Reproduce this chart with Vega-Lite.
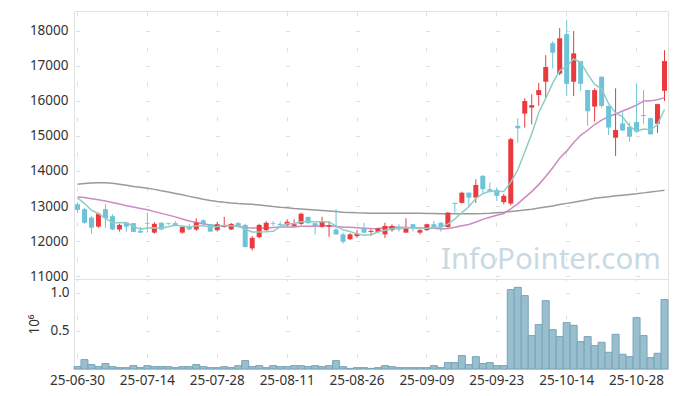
{
  "$schema": "https://vega.github.io/schema/vega-lite/v6.json",
  "padding": {"left": 27, "top": 10, "right": 10, "bottom": 5},
  "background": "white",
  "spacing": 0,
  "bounds": "flush",
  "config": {
    "font": "Noto Sans",
    "view": {"stroke": "#e2e2e2"},
    "concat": {"spacing": 0},
    "axis": {
      "labelFont": "Noto Sans",
      "labelFontSize": 13.5,
      "labelColor": "#333333",
      "labelOverlap": false,
      "titleFont": "Noto Sans",
      "titleFontSize": 13.5,
      "titleFontWeight": "normal",
      "titleColor": "#333333",
      "domainColor": "#e2e2e2",
      "ticks": false,
      "gridColor": "#dedede",
      "gridWidth": 1
    }
  },
  "datasets": {
    "d": [
      {"date": "25-06-30", "open": 13050, "high": 13110, "low": 12800, "close": 12890, "volume": 31000, "ma5": 13230, "ma20": 13260, "ma120": 13620},
      {"date": "25-07-01", "open": 12910, "high": 12950, "low": 12490, "close": 12520, "volume": 123000, "ma5": 13070, "ma20": 13240, "ma120": 13640},
      {"date": "25-07-02", "open": 12670, "high": 12710, "low": 12210, "close": 12380, "volume": 58000, "ma5": 12880, "ma20": 13210, "ma120": 13655},
      {"date": "25-07-03", "open": 12410, "high": 12810, "low": 12380, "close": 12780, "volume": 31000, "ma5": 12780, "ma20": 13180, "ma120": 13665},
      {"date": "25-07-04", "open": 12910, "high": 13050, "low": 12380, "close": 12650, "volume": 71000, "ma5": 12644, "ma20": 13140, "ma120": 13665},
      {"date": "25-07-07", "open": 12710, "high": 12770, "low": 12310, "close": 12330, "volume": 31000, "ma5": 12532, "ma20": 13100, "ma120": 13650},
      {"date": "25-07-08", "open": 12330, "high": 12490, "low": 12270, "close": 12460, "volume": 18000, "ma5": 12520, "ma20": 13060, "ma120": 13620},
      {"date": "25-07-09", "open": 12520, "high": 12540, "low": 12270, "close": 12410, "volume": 18000, "ma5": 12526, "ma20": 13010, "ma120": 13590},
      {"date": "25-07-10", "open": 12510, "high": 12510, "low": 12260, "close": 12260, "volume": 44000, "ma5": 12422, "ma20": 12970, "ma120": 13560},
      {"date": "25-07-11", "open": 12290, "high": 12400, "low": 12230, "close": 12240, "volume": 18000, "ma5": 12340, "ma20": 12930, "ma120": 13535},
      {"date": "25-07-14", "open": 12510, "high": 12810, "low": 12240, "close": 12490, "volume": 44000, "ma5": 12372, "ma20": 12890, "ma120": 13505},
      {"date": "25-07-15", "open": 12240, "high": 12540, "low": 12210, "close": 12490, "volume": 31000, "ma5": 12378, "ma20": 12840, "ma120": 13475},
      {"date": "25-07-16", "open": 12520, "high": 12540, "low": 12310, "close": 12330, "volume": 31000, "ma5": 12362, "ma20": 12790, "ma120": 13435},
      {"date": "25-07-17", "open": 12510, "high": 12520, "low": 12460, "close": 12490, "volume": 31000, "ma5": 12408, "ma20": 12740, "ma120": 13400},
      {"date": "25-07-18", "open": 12510, "high": 12570, "low": 12430, "close": 12450, "volume": 18000, "ma5": 12450, "ma20": 12690, "ma120": 13360},
      {"date": "25-07-21", "open": 12240, "high": 12430, "low": 12210, "close": 12400, "volume": 31000, "ma5": 12432, "ma20": 12630, "ma120": 13320},
      {"date": "25-07-22", "open": 12400, "high": 12490, "low": 12310, "close": 12330, "volume": 31000, "ma5": 12400, "ma20": 12570, "ma120": 13275},
      {"date": "25-07-23", "open": 12330, "high": 12650, "low": 12290, "close": 12520, "volume": 58000, "ma5": 12438, "ma20": 12530, "ma120": 13235},
      {"date": "25-07-24", "open": 12590, "high": 12620, "low": 12460, "close": 12480, "volume": 31000, "ma5": 12436, "ma20": 12490, "ma120": 13195},
      {"date": "25-07-25", "open": 12480, "high": 12490, "low": 12260, "close": 12270, "volume": 18000, "ma5": 12400, "ma20": 12459, "ma120": 13160},
      {"date": "25-07-28", "open": 12310, "high": 12550, "low": 12270, "close": 12480, "volume": 18000, "ma5": 12416, "ma20": 12438, "ma120": 13130},
      {"date": "25-07-29", "open": 12400, "high": 12690, "low": 12380, "close": 12450, "volume": 31000, "ma5": 12440, "ma20": 12435, "ma120": 13105},
      {"date": "25-07-30", "open": 12330, "high": 12510, "low": 12310, "close": 12490, "volume": 18000, "ma5": 12434, "ma20": 12440, "ma120": 13085},
      {"date": "25-07-31", "open": 12510, "high": 12540, "low": 12380, "close": 12430, "volume": 44000, "ma5": 12424, "ma20": 12423, "ma120": 13070},
      {"date": "25-08-01", "open": 12460, "high": 12490, "low": 11810, "close": 11830, "volume": 110000, "ma5": 12336, "ma20": 12382, "ma120": 13060},
      {"date": "25-08-04", "open": 11790, "high": 12140, "low": 11730, "close": 12090, "volume": 31000, "ma5": 12258, "ma20": 12370, "ma120": 13050},
      {"date": "25-08-05", "open": 12110, "high": 12490, "low": 12080, "close": 12460, "volume": 44000, "ma5": 12260, "ma20": 12370, "ma120": 13030},
      {"date": "25-08-06", "open": 12310, "high": 12570, "low": 12290, "close": 12520, "volume": 18000, "ma5": 12266, "ma20": 12375, "ma120": 13010},
      {"date": "25-08-07", "open": 12510, "high": 12570, "low": 12430, "close": 12490, "volume": 44000, "ma5": 12278, "ma20": 12387, "ma120": 12985},
      {"date": "25-08-08", "open": 12490, "high": 12560, "low": 12430, "close": 12450, "volume": 31000, "ma5": 12402, "ma20": 12397, "ma120": 12965},
      {"date": "25-08-11", "open": 12450, "high": 12620, "low": 12430, "close": 12550, "volume": 31000, "ma5": 12494, "ma20": 12400, "ma120": 12950},
      {"date": "25-08-12", "open": 12430, "high": 12620, "low": 12410, "close": 12480, "volume": 44000, "ma5": 12498, "ma20": 12400, "ma120": 12930},
      {"date": "25-08-13", "open": 12490, "high": 12810, "low": 12460, "close": 12780, "volume": 44000, "ma5": 12550, "ma20": 12422, "ma120": 12915},
      {"date": "25-08-14", "open": 12690, "high": 12690, "low": 12490, "close": 12510, "volume": 31000, "ma5": 12554, "ma20": 12423, "ma120": 12900},
      {"date": "25-08-18", "open": 12510, "high": 12510, "low": 12190, "close": 12430, "volume": 44000, "ma5": 12550, "ma20": 12422, "ma120": 12885},
      {"date": "25-08-19", "open": 12410, "high": 12690, "low": 12380, "close": 12550, "volume": 31000, "ma5": 12550, "ma20": 12430, "ma120": 12870},
      {"date": "25-08-20", "open": 12410, "high": 12570, "low": 12120, "close": 12450, "volume": 44000, "ma5": 12544, "ma20": 12436, "ma120": 12855},
      {"date": "25-08-21", "open": 12330, "high": 12910, "low": 12170, "close": 12190, "volume": 110000, "ma5": 12426, "ma20": 12419, "ma120": 12840},
      {"date": "25-08-22", "open": 12190, "high": 12240, "low": 11920, "close": 11980, "volume": 31000, "ma5": 12320, "ma20": 12394, "ma120": 12825},
      {"date": "25-08-25", "open": 12050, "high": 12230, "low": 12030, "close": 12190, "volume": 8000, "ma5": 12272, "ma20": 12390, "ma120": 12815},
      {"date": "25-08-26", "open": 12140, "high": 12310, "low": 12090, "close": 12210, "volume": 18000, "ma5": 12204, "ma20": 12377, "ma120": 12805},
      {"date": "25-08-27", "open": 12360, "high": 12520, "low": 12230, "close": 12240, "volume": 18000, "ma5": 12162, "ma20": 12366, "ma120": 12800},
      {"date": "25-08-28", "open": 12260, "high": 12340, "low": 12140, "close": 12290, "volume": 8000, "ma5": 12182, "ma20": 12356, "ma120": 12795},
      {"date": "25-08-29", "open": 12260, "high": 12380, "low": 12230, "close": 12360, "volume": 18000, "ma5": 12258, "ma20": 12353, "ma120": 12792},
      {"date": "25-09-01", "open": 12190, "high": 12520, "low": 12090, "close": 12430, "volume": 44000, "ma5": 12306, "ma20": 12383, "ma120": 12790},
      {"date": "25-09-02", "open": 12310, "high": 12480, "low": 12270, "close": 12430, "volume": 31000, "ma5": 12350, "ma20": 12400, "ma120": 12790},
      {"date": "25-09-03", "open": 12400, "high": 12480, "low": 12270, "close": 12330, "volume": 18000, "ma5": 12368, "ma20": 12393, "ma120": 12790},
      {"date": "25-09-04", "open": 12240, "high": 12650, "low": 12230, "close": 12360, "volume": 18000, "ma5": 12382, "ma20": 12385, "ma120": 12790},
      {"date": "25-09-05", "open": 12480, "high": 12490, "low": 12270, "close": 12360, "volume": 18000, "ma5": 12382, "ma20": 12379, "ma120": 12790},
      {"date": "25-09-08", "open": 12240, "high": 12340, "low": 12190, "close": 12310, "volume": 18000, "ma5": 12358, "ma20": 12372, "ma120": 12790},
      {"date": "25-09-09", "open": 12310, "high": 12490, "low": 12290, "close": 12480, "volume": 18000, "ma5": 12368, "ma20": 12368, "ma120": 12788},
      {"date": "25-09-10", "open": 12480, "high": 12570, "low": 12360, "close": 12400, "volume": 44000, "ma5": 12382, "ma20": 12364, "ma120": 12785},
      {"date": "25-09-11", "open": 12520, "high": 12540, "low": 12270, "close": 12400, "volume": 18000, "ma5": 12390, "ma20": 12345, "ma120": 12782},
      {"date": "25-09-12", "open": 12400, "high": 12830, "low": 12380, "close": 12810, "volume": 84000, "ma5": 12480, "ma20": 12360, "ma120": 12780},
      {"date": "25-09-15", "open": 13090, "high": 13090, "low": 12810, "close": 13060, "volume": 84000, "ma5": 12630, "ma20": 12392, "ma120": 12780},
      {"date": "25-09-16", "open": 13090, "high": 13410, "low": 13070, "close": 13380, "volume": 176000, "ma5": 12810, "ma20": 12433, "ma120": 12780},
      {"date": "25-09-17", "open": 13380, "high": 13390, "low": 13000, "close": 13240, "volume": 58000, "ma5": 12978, "ma20": 12473, "ma120": 12780},
      {"date": "25-09-18", "open": 13240, "high": 13760, "low": 13090, "close": 13600, "volume": 162000, "ma5": 13218, "ma20": 12543, "ma120": 12780},
      {"date": "25-09-19", "open": 13860, "high": 13890, "low": 13380, "close": 13480, "volume": 71000, "ma5": 13352, "ma20": 12618, "ma120": 12785},
      {"date": "25-09-22", "open": 13480, "high": 13670, "low": 13380, "close": 13430, "volume": 84000, "ma5": 13426, "ma20": 12680, "ma120": 12795},
      {"date": "25-09-23", "open": 13460, "high": 13520, "low": 13140, "close": 13290, "volume": 44000, "ma5": 13408, "ma20": 12734, "ma120": 12810},
      {"date": "25-09-24", "open": 13110, "high": 13350, "low": 13050, "close": 13290, "volume": 44000, "ma5": 13418, "ma20": 12787, "ma120": 12825},
      {"date": "25-09-25", "open": 13070, "high": 14950, "low": 13020, "close": 14910, "volume": 1041000, "ma5": 13680, "ma20": 12918, "ma120": 12845},
      {"date": "25-09-26", "open": 15290, "high": 15510, "low": 14810, "close": 15220, "volume": 1071000, "ma5": 14028, "ma20": 13061, "ma120": 12865},
      {"date": "25-09-29", "open": 15640, "high": 16080, "low": 15240, "close": 16000, "volume": 962000, "ma5": 14542, "ma20": 13239, "ma120": 12885},
      {"date": "25-09-30", "open": 15810, "high": 16190, "low": 15330, "close": 15880, "volume": 438000, "ma5": 15060, "ma20": 13412, "ma120": 12906},
      {"date": "25-10-01", "open": 16170, "high": 16520, "low": 15860, "close": 16310, "volume": 582000, "ma5": 15664, "ma20": 13611, "ma120": 12940},
      {"date": "25-10-02", "open": 16550, "high": 17310, "low": 16080, "close": 16970, "volume": 896000, "ma5": 16076, "ma20": 13841, "ma120": 12970},
      {"date": "25-10-10", "open": 17650, "high": 17710, "low": 16930, "close": 17380, "volume": 516000, "ma5": 16508, "ma20": 14092, "ma120": 13000},
      {"date": "25-10-13", "open": 16780, "high": 18080, "low": 16740, "close": 17790, "volume": 425000, "ma5": 16866, "ma20": 14366, "ma120": 13040},
      {"date": "25-10-14", "open": 17910, "high": 18310, "low": 16140, "close": 16490, "volume": 608000, "ma5": 16988, "ma20": 14567, "ma120": 13075},
      {"date": "25-10-15", "open": 16550, "high": 18000, "low": 16140, "close": 17360, "volume": 573000, "ma5": 17198, "ma20": 14815, "ma120": 13110},
      {"date": "25-10-16", "open": 17140, "high": 17140, "low": 16290, "close": 16490, "volume": 359000, "ma5": 17102, "ma20": 15019, "ma120": 13145},
      {"date": "25-10-17", "open": 16310, "high": 16310, "low": 15290, "close": 15710, "volume": 425000, "ma5": 16768, "ma20": 15164, "ma120": 13180},
      {"date": "25-10-20", "open": 15840, "high": 16360, "low": 15410, "close": 16310, "volume": 307000, "ma5": 16472, "ma20": 15327, "ma120": 13220},
      {"date": "25-10-21", "open": 16690, "high": 16710, "low": 15810, "close": 15860, "volume": 350000, "ma5": 16346, "ma20": 15451, "ma120": 13245},
      {"date": "25-10-22", "open": 15860, "high": 15860, "low": 15030, "close": 15240, "volume": 219000, "ma5": 15922, "ma20": 15551, "ma120": 13265},
      {"date": "25-10-23", "open": 14950, "high": 16360, "low": 14430, "close": 15170, "volume": 455000, "ma5": 15658, "ma20": 15629, "ma120": 13290},
      {"date": "25-10-24", "open": 15360, "high": 15670, "low": 15140, "close": 15160, "volume": 193000, "ma5": 15548, "ma20": 15713, "ma120": 13310},
      {"date": "25-10-27", "open": 15260, "high": 15380, "low": 14840, "close": 14980, "volume": 162000, "ma5": 15282, "ma20": 15791, "ma120": 13330},
      {"date": "25-10-28", "open": 15400, "high": 16490, "low": 15090, "close": 15120, "volume": 673000, "ma5": 15134, "ma20": 15882, "ma120": 13350},
      {"date": "25-10-29", "open": 15600, "high": 16310, "low": 15350, "close": 15570, "volume": 438000, "ma5": 15200, "ma20": 15996, "ma120": 13375},
      {"date": "25-10-30", "open": 15510, "high": 15520, "low": 15030, "close": 15050, "volume": 149000, "ma5": 15176, "ma20": 16003, "ma120": 13400},
      {"date": "25-10-31", "open": 15350, "high": 15920, "low": 15090, "close": 15910, "volume": 206000, "ma5": 15326, "ma20": 16038, "ma120": 13425},
      {"date": "25-11-03", "open": 16290, "high": 17450, "low": 16000, "close": 17140, "volume": 910000, "ma5": 15758, "ma20": 16095, "ma120": 13450}
    ],
    "wm": [{"date": "25-09-11", "price": 11200, "label": "InfoPointer.com"}]
  },
  "vconcat": [
    {
      "width": 594,
      "height": 268,
      "encoding": {
        "x": {
          "field": "date",
          "type": "ordinal",
          "scale": {"paddingInner": 0, "paddingOuter": 0},
          "axis": {
            "values": ["25-06-30", "25-07-14", "25-07-28", "25-08-11", "25-08-26", "25-09-09", "25-09-23", "25-10-14", "25-10-28"],
            "labels": false,
            "domain": false,
            "title": null,
            "labelPadding": 0,
            "minExtent": 0,
            "maxExtent": 0,
            "grid": true,
            "gridDash": [4, 31],
            "gridDashOffset": 34
          }
        }
      },
      "layer": [
        {
          "data": {"name": "d"},
          "mark": {"type": "line", "color": "#9a9a9a", "strokeWidth": 1.5},
          "encoding": {
            "y": {
              "field": "ma120",
              "type": "quantitative",
              "scale": {"domain": [10915, 18570], "nice": false, "zero": false},
              "axis": {
                "values": [11000, 12000, 13000, 14000, 15000, 16000, 17000, 18000],
                "tickCount": 8,
                "format": "d",
                "title": null,
                "labelPadding": 6,
                "labelOverlap": false,
                "grid": true,
                "gridDash": [4, 66],
                "gridDashOffset": 68.5
              }
            }
          }
        },
        {
          "data": {"name": "wm"},
          "mark": {"type": "text", "align": "left", "baseline": "alphabetic", "font": "Noto Sans", "fontSize": 29.5, "fontWeight": "normal", "color": "#c8d9e3"},
          "encoding": {
            "y": {"field": "price", "type": "quantitative"},
            "text": {"field": "label"}
          }
        },
        {
          "data": {"name": "d"},
          "mark": {"type": "line", "color": "#cc8ac2", "strokeWidth": 1.5},
          "encoding": {"y": {"field": "ma20", "type": "quantitative"}}
        },
        {
          "data": {"name": "d"},
          "mark": {"type": "rule", "strokeWidth": 1},
          "encoding": {
            "y": {"field": "low", "type": "quantitative"},
            "y2": {"field": "high"},
            "color": {"condition": {"test": "datum.close >= datum.open", "value": "#eb3a3e"}, "value": "#6ec3d8"}
          }
        },
        {
          "data": {"name": "d"},
          "mark": {"type": "bar", "size": 5},
          "encoding": {
            "y": {"field": "open", "type": "quantitative"},
            "y2": {"field": "close"},
            "color": {"condition": {"test": "datum.close >= datum.open", "value": "#eb3a3e"}, "value": "#6ec3d8"}
          }
        },
        {
          "data": {"name": "d"},
          "mark": {"type": "line", "color": "#8ecdc3", "strokeWidth": 1.5},
          "encoding": {"y": {"field": "ma5", "type": "quantitative"}}
        }
      ]
    },
    {
      "width": 594,
      "height": 90,
      "data": {"name": "d"},
      "mark": {"type": "bar", "fill": "#99bfcf", "stroke": "#77a4b8", "strokeWidth": 1},
      "encoding": {
        "x": {
          "field": "date",
          "type": "ordinal",
          "scale": {"paddingInner": 0, "paddingOuter": 0},
          "axis": {
            "values": ["25-06-30", "25-07-14", "25-07-28", "25-08-11", "25-08-26", "25-09-09", "25-09-23", "25-10-14", "25-10-28"],
            "labelAngle": 0,
            "labelPadding": 4,
            "title": null,
            "grid": true,
            "gridDash": [4, 34.14],
            "gridDashOffset": 2
          }
        },
        "y": {
          "field": "volume",
          "type": "quantitative",
          "scale": {"domain": [0, 1180000], "nice": false},
          "axis": {
            "values": [500000, 1000000],
            "labelExpr": "format(datum.value / 1000000, '.1f')",
            "title": "10⁶",
            "titlePadding": 8,
            "labelPadding": 5,
            "grid": true,
            "gridDash": [4, 66],
            "gridDashOffset": 68.5
          }
        }
      }
    }
  ]
}
